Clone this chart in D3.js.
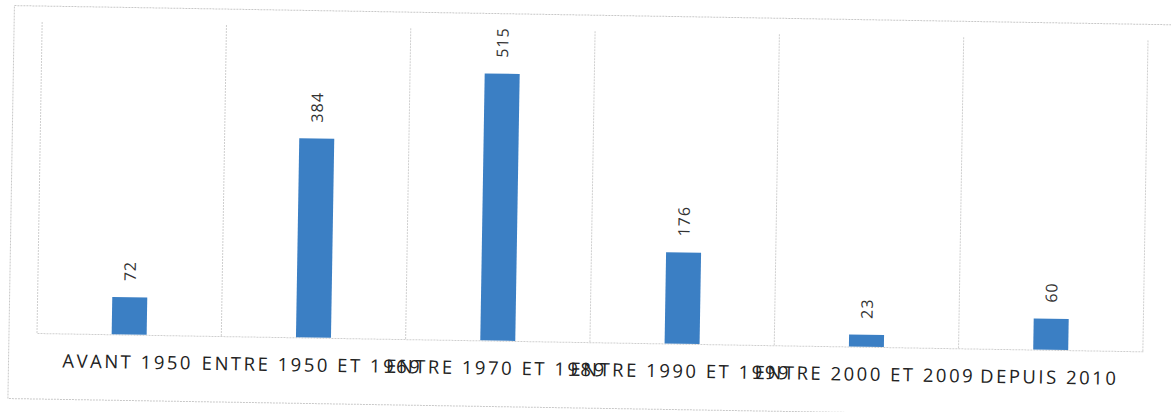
<!DOCTYPE html>
<html>
<head>
<meta charset="utf-8">
<script src="https://cdn.jsdelivr.net/npm/d3@7"></script>
<style>
  html, body { margin: 0; padding: 0; background: #fff; }
  svg { display: block; }
</style>
</head>
<body>
<svg id="chart" width="1171" height="412"></svg>
<script>
const categories = ["AVANT 1950", "ENTRE 1950 ET 1969", "ENTRE 1970 ET 1989", "ENTRE 1990 ET 1999", "ENTRE 2000 ET 2009", "DEPUIS 2010"];
const values = [72, 384, 515, 176, 23, 60];
const yDomain = [0, 600];

const svg = d3.select("#chart");
const plot = { left: 37, right: 1143, top: 22, bottom: 333 };

// scanned page is slightly tilted
const g = svg.append("g").attr("transform", `rotate(0.95, ${plot.left}, ${plot.bottom})`);

// outer frame
g.append("rect")
  .attr("x", 9).attr("y", 6)
  .attr("width", 1185).attr("height", 393)
  .attr("fill", "none")
  .attr("stroke", "#c8c8c8")
  .attr("stroke-width", 1)
  .attr("stroke-dasharray", "2,1");

const x = d3.scaleBand().domain(categories).range([plot.left, plot.right]).paddingInner(0).paddingOuter(0);
const y = d3.scaleLinear().domain(yDomain).range([plot.bottom, plot.top]);

// vertical gridlines at category boundaries
const bounds = categories.map(c => x(c)).concat([plot.right]);
g.selectAll("line.grid").data(bounds).enter().append("line")
  .attr("class", "grid")
  .attr("x1", d => d).attr("x2", d => d)
  .attr("y1", plot.top).attr("y2", plot.bottom)
  .attr("stroke", "#cfcfcf")
  .attr("stroke-width", 1)
  .attr("stroke-dasharray", "2,1");

// baseline axis
const xAxis = d3.axisBottom(x).tickSize(0).tickPadding(0).tickFormat(() => "");
const ax = g.append("g").attr("transform", `translate(0,${plot.bottom})`).call(xAxis);
ax.select(".domain").attr("stroke", "#cfcfcf").attr("stroke-dasharray", "2,1");

const barW = 35;
// bars
g.selectAll("rect.bar").data(values).enter().append("rect")
  .attr("class", "bar")
  .attr("x", (d, i) => x(categories[i]) + x.bandwidth() / 2 - barW / 2)
  .attr("width", barW)
  .attr("y", d => y(d))
  .attr("height", d => y(0) - y(d))
  .attr("fill", "#3b7fc4");

// value labels (rotated)
g.selectAll("text.val").data(values).enter().append("text")
  .attr("class", "val")
  .attr("transform", (d, i) => `translate(${x(categories[i]) + x.bandwidth() / 2},${y(d) - 16}) rotate(-90)`)
  .attr("dy", "0.35em")
  .attr("text-anchor", "start")
  .attr("font-family", "Open Sans, sans-serif")
  .attr("font-size", 16)
  .attr("letter-spacing", "1px")
  .attr("fill", "#333")
  .text(d => d);

// category labels
g.selectAll("text.cat").data(categories).enter().append("text")
  .attr("class", "cat")
  .attr("x", d => x(d) + x.bandwidth() / 2 - 1)
  .attr("y", plot.bottom + 34)
  .attr("text-anchor", "middle")
  .attr("font-family", "Open Sans, sans-serif")
  .attr("font-size", 18.5)
  .attr("letter-spacing", "2.5px")
  .attr("fill", "#222")
  .text(d => d);
</script>
</body>
</html>
